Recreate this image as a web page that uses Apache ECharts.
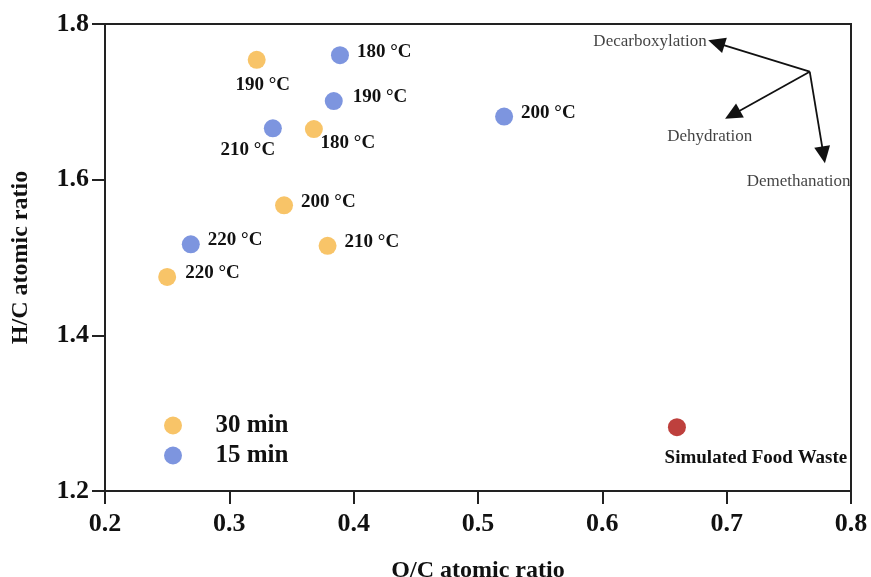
<!DOCTYPE html>
<html>
<head>
<meta charset="utf-8">
<script src="https://cdn.jsdelivr.net/npm/echarts@6/dist/echarts.min.js"></script>
<style>html,body{margin:0;padding:0;background:#fff;}#chart{width:871px;height:577px;}</style>
</head>
<body>
<div id="chart"></div>
<script>
// ---- data ----
const xTicks = [0.2, 0.3, 0.4, 0.5, 0.6, 0.7, 0.8];
const yTicks = [1.2, 1.4, 1.6, 1.8];

const min30Labels = ['190 °C', '180 °C', '200 °C', '210 °C', '220 °C'];
const min30OC = [0.322, 0.368, 0.344, 0.379, 0.250];
const min30HC = [1.754, 1.665, 1.567, 1.515, 1.475];

const min15Labels = ['180 °C', '190 °C', '210 °C', '200 °C', '220 °C'];
const min15OC = [0.389, 0.384, 0.335, 0.521, 0.269];
const min15HC = [1.760, 1.701, 1.666, 1.681, 1.517];

const feedLabel = ['Simulated Food Waste'];
const feedOC = [0.660];
const feedHC = [1.282];

// annotation arrows (data coordinates): start + three ends
const arrowStart = [0.7668, 1.7387];
const arrowEnds = [[0.6917, 1.7758], [0.7047, 1.6835], [0.7779, 1.6319]];
const arrowNames = ['Decarboxylation', 'Dehydration', 'Demethanation'];
const arrowTextAt = [[0.6839, 1.7781], [0.6864, 1.656], [0.7579, 1.5973]];

// ---- label placement (layout, not data) ----
const min30LabelLayout = [
  {align: 'center', offset: [6, 25]},
  {align: 'center', offset: [34, 14]},
  {align: 'left', offset: [17, -3]},
  {align: 'left', offset: [17, -4]},
  {align: 'left', offset: [18, -4]}
];
const min15LabelLayout = [
  {align: 'left', offset: [17, -3]},
  {align: 'left', offset: [19, -4]},
  {align: 'center', offset: [-25, 22]},
  {align: 'left', offset: [17, -4]},
  {align: 'left', offset: [17, -4]}
];
const feedLabelLayout = [{align: 'center', offset: [79, 31]}];
const arrowTextAlign = ['right', 'center', 'center'];

const FONT = '"Liberation Serif", "Times New Roman", serif';

function buildPoints(xs, ys, labels, layout) {
  return xs.map((x, i) => ({
    value: [x, ys[i]],
    name: labels[i],
    label: {
      show: true,
      position: 'inside',
      align: layout[i].align,
      verticalAlign: 'middle',
      offset: layout[i].offset,
      formatter: labels[i],
      color: '#111',
      fontFamily: FONT,
      fontWeight: 'bold',
      fontSize: 19
    }
  }));
}

const chart = echarts.init(document.getElementById('chart'), null, {renderer: 'canvas'});

const axisLabelStyle = {color: '#111', fontFamily: FONT, fontWeight: 'bold', fontSize: 26};
const axisNameStyle = {color: '#111', fontFamily: FONT, fontWeight: 'bold', fontSize: 24};

chart.setOption({
  animation: false,
  backgroundColor: '#ffffff',
  grid: {left: 105, right: 20, top: 24, bottom: 86, outerBoundsMode: 'none', containLabel: false,
         show: true, borderColor: '#222', borderWidth: 2, backgroundColor: 'transparent'},
  legend: {
    data: ['30 min', '15 min'],
    orient: 'vertical',
    left: 159,
    top: 408,
    itemWidth: 75,
    itemHeight: 18,
    itemGap: 5,
    icon: 'circle',
    textStyle: {color: '#111', fontFamily: FONT, fontWeight: 'bold', fontSize: 25, lineHeight: 24}
  },
  xAxis: {
    type: 'value',
    min: xTicks[0],
    max: xTicks[xTicks.length - 1],
    interval: 0.1,
    name: 'O/C atomic ratio',
    nameLocation: 'middle',
    nameGap: 68,
    nameTextStyle: axisNameStyle,
    axisLine: {show: true, lineStyle: {color: '#222', width: 2}},
    axisTick: {show: true, inside: false, length: 13, lineStyle: {color: '#222', width: 2}},
    axisLabel: Object.assign({margin: 20, formatter: v => v.toFixed(1)}, axisLabelStyle),
    splitLine: {show: false}
  },
  yAxis: {
    type: 'value',
    min: yTicks[0],
    max: yTicks[yTicks.length - 1],
    interval: 0.2,
    name: 'H/C atomic ratio',
    nameLocation: 'middle',
    nameGap: 72,
    nameTextStyle: axisNameStyle,
    axisLine: {show: true, lineStyle: {color: '#222', width: 2}},
    axisTick: {show: true, inside: false, length: 13, lineStyle: {color: '#222', width: 2}},
    axisLabel: Object.assign({margin: 16, formatter: v => v.toFixed(1)}, axisLabelStyle),
    splitLine: {show: false}
  },
  series: [
    {
      name: '30 min',
      type: 'scatter',
      symbol: 'circle',
      symbolSize: 18,
      itemStyle: {color: '#F8C468', opacity: 1},
      data: buildPoints(min30OC, min30HC, min30Labels, min30LabelLayout),
      z: 3
    },
    {
      name: '15 min',
      type: 'scatter',
      symbol: 'circle',
      symbolSize: 18,
      itemStyle: {color: '#7D95DF', opacity: 1},
      data: buildPoints(min15OC, min15HC, min15Labels, min15LabelLayout),
      z: 3
    },
    {
      name: 'Simulated Food Waste',
      type: 'scatter',
      symbol: 'circle',
      symbolSize: 18,
      itemStyle: {color: '#BE403D', opacity: 1},
      data: buildPoints(feedOC, feedHC, feedLabel, feedLabelLayout),
      z: 3,
      markLine: {
        silent: true,
        symbol: ['none', 'triangle'],
        symbolSize: [16, 17],
        label: {show: false},
        lineStyle: {color: '#111', width: 1.8, type: 'solid'},
        data: arrowEnds.map(e => [{coord: arrowStart}, {coord: e}])
      }
    },
    {
      name: 'annotations',
      type: 'scatter',
      symbolSize: 0,
      silent: true,
      data: arrowTextAt.map((p, i) => ({
        value: p,
        label: {
          show: true,
          position: 'inside',
          align: arrowTextAlign[i],
          verticalAlign: 'middle',
          formatter: arrowNames[i],
          color: '#111',
          fontFamily: FONT,
          fontWeight: 'normal',
          fontSize: 17
        }
      }))
    }
  ]
});
</script>
</body>
</html>
